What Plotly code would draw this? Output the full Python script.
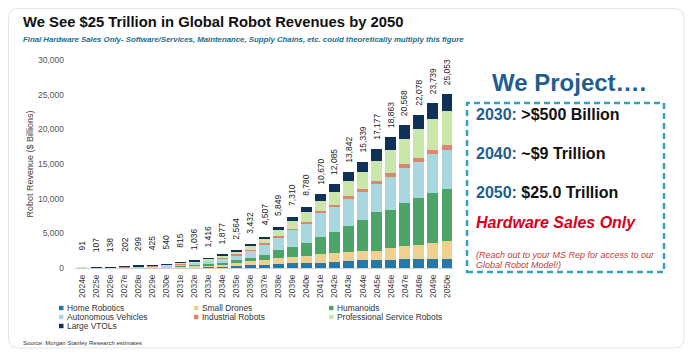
import glob
import plotly.graph_objects as go

# ---------------- data ----------------
years = ["2024e", "2025e", "2026e", "2027e", "2028e", "2029e", "2030e", "2031e", "2032e",
         "2033e", "2034e", "2035e", "2036e", "2037e", "2038e", "2039e", "2040e", "2041e",
         "2042e", "2043e", "2044e", "2045e", "2046e", "2047e", "2048e", "2049e", "2050e"]

totals = [91, 107, 138, 202, 299, 425, 540, 815, 1036, 1416, 1877, 2564, 3432, 4507, 5849,
          7310, 8780, 10670, 12085, 13842, 15339, 17177, 18863, 20568, 22078, 23739, 25053]

home_robotics = [13, 15, 20, 30, 45, 60, 70, 110, 126, 166, 207, 294, 430, 500, 580, 680, 680,
                 770, 910, 1010, 1150, 1150, 1150, 1250, 1300, 1300, 1300]
small_drones = [20, 24, 30, 45, 60, 85, 90, 150, 180, 240, 310, 430, 560, 620, 820, 950, 1050,
                1210, 1300, 1300, 1340, 1370, 1690, 1920, 2020, 2260, 2530]
humanoids = [1, 2, 4, 7, 14, 25, 40, 70, 110, 170, 260, 360, 500, 720, 1200, 1440, 1830, 2540,
             3030, 3750, 4430, 5520, 5530, 6150, 6730, 7300, 7500]
autonomous_vehicles = [10, 15, 25, 45, 75, 110, 155, 240, 320, 440, 560, 790, 1002, 1573, 1799,
                       2460, 2900, 3415, 3535, 3947, 4039, 4087, 4816, 5051, 5211, 5519, 5653]
industrial_robots = [29, 30, 32, 35, 40, 45, 50, 60, 70, 80, 100, 110, 140, 144, 150, 150, 160,
                     230, 330, 375, 390, 480, 577, 577, 577, 620, 720]
prof_service_robots = [18, 20, 25, 35, 50, 70, 90, 140, 180, 250, 330, 430, 580, 620, 970, 1150,
                       1440, 1540, 1830, 2160, 2550, 2780, 3270, 3600, 4180, 4530, 4950]
large_vtols = [0, 1, 2, 5, 15, 30, 45, 45, 50, 70, 110, 150, 220, 330, 330, 480, 720, 965, 1150,
               1300, 1440, 1790, 1830, 2020, 2060, 2210, 2400]

series_names = ["Home Robotics", "Small Drones", "Humanoids", "Autonomous Vehicles",
                "Industrial Robots", "Professional Service Robots", "Large VTOLs"]
series_values = [home_robotics, small_drones, humanoids, autonomous_vehicles,
                 industrial_robots, prof_service_robots, large_vtols]
series_colors = ["#2379a9", "#f1d08f", "#4ba566", "#a9d7e0", "#e0836f", "#c9e7a9", "#0f3059"]

y_ticks = [0, 5000, 10000, 15000, 20000, 25000, 30000]

# ---------------- layout geometry ----------------
# the page has an 8px body margin, so the figure is placed 8px in from the window corner
OFF = 8
W, H = 695 - OFF, 358 - OFF
L, R, T, B = 75 - OFF, 241, 60 - OFF, 90
PW, PH = W - L - R, H - T - B


def px(x):
    """window x (reference pixel) -> paper x"""
    return (x - OFF - L) / PW


def py(y):
    """window y (reference pixel) -> paper y"""
    return (H - B - (y - OFF)) / PH


narrow = bool(glob.glob("/usr/share/fonts/**/LiberationSansNarrow*", recursive=True)) or \
    bool(glob.glob("/usr/share/fonts/**/*SansNarrow*", recursive=True))
if narrow:
    head_font = "Liberation Sans Narrow, Arial Narrow, Arial, sans-serif"
    title_size, sub_size = 18, 9.5
else:
    head_font = "Liberation Sans, Arial, sans-serif"
    title_size, sub_size = 14.8, 7.8

BASE = "Liberation Sans, Arial, sans-serif"

fig = go.Figure()
for name, vals, col in zip(series_names, series_values, series_colors):
    fig.add_trace(go.Bar(x=years, y=vals, name=name, marker=dict(color=col, line=dict(width=0)),
                         showlegend=False))

annotations = []
# totals above bars
for yr, tot in zip(years, totals):
    annotations.append(dict(x=yr, y=tot, xref="x", yref="y", text=f"{tot:,}", showarrow=False,
                            textangle=-90, yanchor="middle", xanchor="center", yshift=22,
                            font=dict(family=BASE, size=8.5, color="#222222")))

# title & subtitle
annotations.append(dict(x=px(21), y=py(22), xref="paper", yref="paper", xanchor="left",
                        yanchor="middle", showarrow=False,
                        text="<b>We See $25 Trillion in Global Robot Revenues by 2050</b>",
                        font=dict(family=head_font, size=title_size, color="#111111")))
annotations.append(dict(x=px(21), y=py(40), xref="paper", yref="paper", xanchor="left",
                        yanchor="middle", showarrow=False,
                        text="<b><i>Final Hardware Sales Only- Software/Services, Maintenance, "
                             "Supply Chains, etc. could theoretically multiply this figure</i></b>",
                        font=dict(family=head_font, size=sub_size, color="#1d6d8c")))

# right panel
blue_txt = "#1f5e8e"
annotations.append(dict(x=px(569), y=py(82), xref="paper", yref="paper", xanchor="center",
                        yanchor="middle", showarrow=False, text="<b>We Project….</b>",
                        font=dict(family=BASE, size=24, color=blue_txt)))
proj_lines = [("2030:", " &gt;$500 Billion", 115), ("2040:", " ~$9 Trillion", 153),
              ("2050:", " $25.0 Trillion", 192)]
for yr_txt, rest, yy in proj_lines:
    annotations.append(dict(x=px(474), y=py(yy), xref="paper", yref="paper", xanchor="left",
                            yanchor="middle", showarrow=False,
                            text=f"<b><span style='color:{blue_txt}'>{yr_txt}</span>{rest}</b>",
                            font=dict(family=BASE, size=16, color="#111111")))
annotations.append(dict(x=px(474), y=py(222), xref="paper", yref="paper", xanchor="left",
                        yanchor="middle", showarrow=False, text="<b><i>Hardware Sales Only</i></b>",
                        font=dict(family=BASE, size=16, color="#d7001d")))
annotations.append(dict(x=px(474), y=py(255), xref="paper", yref="paper", xanchor="left",
                        yanchor="middle", showarrow=False,
                        text="<i>(Reach out to your MS Rep for access to our</i>",
                        font=dict(family=BASE, size=9, color="#c43b3b")))
annotations.append(dict(x=px(474), y=py(264.5), xref="paper", yref="paper", xanchor="left",
                        yanchor="middle", showarrow=False, text="<i>Global Robot Model!)</i>",
                        font=dict(family=BASE, size=9, color="#c43b3b")))

# source
annotations.append(dict(x=px(21), y=py(343), xref="paper", yref="paper", xanchor="left",
                        yanchor="middle", showarrow=False,
                        text="Source: Morgan Stanley Research estimates",
                        font=dict(family=BASE, size=6, color="#333333")))

shapes = []
# card border (rounded)
x0, y0, x1, y1, rr = 8.5, 8.5, 684, 348, 10
rx, ry = rr / PW, rr / PH
X0, X1, Y0, Y1 = px(x0), px(x1), py(y0), py(y1)
path = (f"M {X0 + rx},{Y0} L {X1 - rx},{Y0} Q {X1},{Y0} {X1},{Y0 - ry} "
        f"L {X1},{Y1 + ry} Q {X1},{Y1} {X1 - rx},{Y1} L {X0 + rx},{Y1} "
        f"Q {X0},{Y1} {X0},{Y1 + ry} L {X0},{Y0 - ry} Q {X0},{Y0} {X0 + rx},{Y0} Z")
shapes.append(dict(type="path", path=path, xref="paper", yref="paper",
                   line=dict(color="#e4e4e4", width=1), layer="below"))
# dashed box
shapes.append(dict(type="rect", xref="paper", yref="paper", x0=px(467), x1=px(664),
                   y0=py(272), y1=py(103), line=dict(color="#2fa3bc", width=2.5, dash="6px,4px")))

# manual legend
leg_cols = [59, 194, 329]
leg_rows = [308, 317, 326]
for i, (name, col) in enumerate(zip(series_names, series_colors)):
    r, c = divmod(i, 3)
    lx, ly = leg_cols[c], leg_rows[r]
    shapes.append(dict(type="rect", xref="paper", yref="paper", x0=px(lx), x1=px(lx + 4.5),
                       y0=py(ly + 2.2), y1=py(ly - 2.2), line=dict(width=0), fillcolor=col))
    annotations.append(dict(x=px(lx + 6), y=py(ly), xref="paper", yref="paper", xanchor="left",
                            yanchor="middle", showarrow=False, text=name,
                            font=dict(family=BASE, size=8.4, color="#333333")))

fig.update_layout(
    width=W, height=H,
    margin=dict(l=L, r=R, t=T, b=B, autoexpand=False),
    paper_bgcolor="white", plot_bgcolor="white",
    barmode="stack", bargap=0.22,
    showlegend=False,
    font=dict(family=BASE, color="#444444"),
    annotations=annotations, shapes=shapes,
    xaxis=dict(tickangle=-90, tickfont=dict(size=8.5, color="#444444"), showgrid=False,
               showline=True, linecolor="#d0d0d0", linewidth=1, ticks="", ticklabelstandoff=2,
               fixedrange=True),
    yaxis=dict(range=[0, 30000], tickvals=y_ticks, tickformat=",", showgrid=False,
               zeroline=False, showline=False, ticks="", ticklabelstandoff=10,
               tickfont=dict(size=8.5, color="#555555"),
               title=dict(text="Robot Revenue ($ Billions)", standoff=2,
                          font=dict(size=9, color="#444444")),
               fixedrange=True),
)

fig.write_html("out.html")
